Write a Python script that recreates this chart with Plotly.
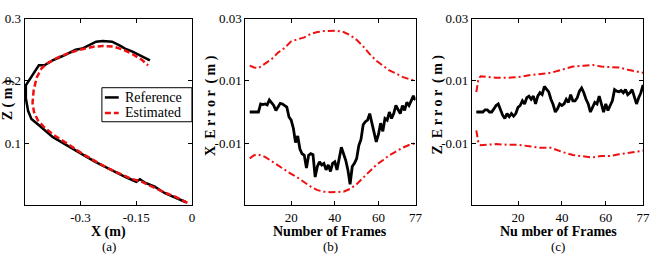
import plotly.graph_objects as go

# ---------------- Data ----------------
# (a) trajectory, X (m) vs Z (m)
ref_x = [-0.016, -0.045, -0.074, -0.100, -0.125, -0.140, -0.150, -0.180, -0.200, -0.224,
         -0.260, -0.295, -0.339, -0.375, -0.410, -0.432, -0.441, -0.447, -0.447, -0.428,
         -0.412, -0.397, -0.375, -0.348, -0.330, -0.313, -0.295, -0.277, -0.258, -0.240,
         -0.215, -0.195, -0.180, -0.160, -0.144, -0.113]
ref_z = [0.005, 0.013, 0.020, 0.030, 0.036, 0.042, 0.038, 0.046, 0.052, 0.058,
         0.070, 0.082, 0.097, 0.110, 0.128, 0.139, 0.152, 0.172, 0.193, 0.211,
         0.225, 0.225, 0.233, 0.240, 0.245, 0.250, 0.252, 0.257, 0.263, 0.264,
         0.263, 0.257, 0.252, 0.247, 0.242, 0.233]
est_x = [-0.012, -0.045, -0.075, -0.105, -0.135, -0.165, -0.195, -0.224, -0.260, -0.295,
         -0.335, -0.372, -0.400, -0.415, -0.425, -0.429, -0.426, -0.418, -0.405, -0.390,
         -0.360, -0.330, -0.295, -0.265, -0.240, -0.210, -0.185, -0.160, -0.135, -0.118]
est_z = [0.004, 0.014, 0.021, 0.029, 0.038, 0.043, 0.051, 0.059, 0.071, 0.083,
         0.099, 0.113, 0.127, 0.137, 0.150, 0.165, 0.185, 0.205, 0.220, 0.228,
         0.238, 0.245, 0.251, 0.255, 0.256, 0.255, 0.250, 0.243, 0.234, 0.225]
legend_names = ["Reference", "Estimated"]

frames = list(range(1, 78))

# (b) X error (x 1e-3 m)
x_err_mm = [0, 0, 0, 0, 0, 2.6, 2.4, 2.6, 2.3, 3.9, 3.1, 2.1, 0.5, 1.6, 2.8, 2.6, 2.1, 1.6, -1.6, -2.6,
            -5.2, -9.8, -7.7, -11.9, -13.4, -13.9, -18.0, -13.9, -13.4, -13.7, -20.9, -17.5, -16.0, -17.0,
            -16.5, -18.6, -17.0, -19.1, -16.5, -16.0, -18.6, -15.0, -11.3, -13.4, -15.5, -18.6, -23.2,
            -17.5, -16.5, -15.0, -10.8, -8.8, -4.1, -3.1, -2.6, -0.5, -3.6, -5.7, -9.6, -7.2, -3.6, -6.2,
            -2.1, -2.6, 0.0, -2.1, -0.5, 2.1, 1.0, -0.5, 2.1, 0.5, 3.1, 2.1, 3.6, 5.2, 3.8]

env_b_frames = [1, 3, 5, 8, 11, 14, 17, 20, 23, 26, 29, 32, 35, 38, 41, 44, 47, 50, 53, 56, 59, 62,
                65, 68, 71, 74, 77]
x_upper_mm = [14.9, 14.3, 14.1, 15.5, 17.0, 19.1, 20.6, 22.7, 23.4, 24.0, 25.1, 25.7, 26.0, 26.1,
              26.1, 25.7, 24.7, 23.2, 21.1, 18.6, 16.5, 14.9, 13.4, 12.4, 11.3, 10.6, 10.0]
x_lower_mm = [-14.9, -13.9, -13.7, -14.4, -15.8, -17.2, -18.6, -19.9, -21.1, -22.7, -24.0, -25.1,
              -25.6, -25.8, -25.8, -25.6, -24.7, -23.2, -21.1, -18.9, -17.0, -15.5, -13.9, -12.7,
              -11.5, -10.6, -10.0]

# (c) Z error (x 1e-3 m)
z_err_mm = [0, 0, 0, 0, 0.7, 0.7, 0, 0, 1.0, 2.1, 2.6, 0.7, -1.0, -2.1, -0.5, -1.5, -0.5, -1.3, -0.5,
            1.5, 2.1, 3.6, 2.6, 4.6, 5.1, 4.1, 5.1, 2.6, 5.1, 6.2, 5.6, 8.2, 7.2, 6.5, 4.1, 2.4, 0,
            1.0, 2.6, 2.1, 2.6, 4.1, 3.1, 5.6, 3.6, 3.6, 4.6, 6.7, 7.7, 6.2, 4.1, 2.6, 0, 1.5, 3.1,
            2.6, 5.1, 2.6, 0, 2.6, 0.5, 2.1, 3.6, 7.2, 6.7, 6.5, 6.9, 6.2, 7.2, 5.6, 6.2, 7.2, 4.6,
            2.6, 4.6, 6.2, 8.7]

env_c_frames = [1, 2, 3, 6, 10, 15, 20, 25, 30, 35, 40, 45, 50, 54, 58, 62, 66, 70, 74, 77]
z_upper_mm = [6.4, 10.8, 11.5, 11.2, 11.0, 11.0, 11.2, 11.8, 12.3, 12.6, 13.6, 14.6, 14.9, 15.1,
              14.6, 14.5, 14.3, 13.6, 13.1, 12.6]
z_lower_mm = [-5.9, -10.0, -10.7, -10.5, -10.3, -10.5, -10.5, -11.0, -11.5, -11.5, -12.8, -13.8,
              -14.3, -14.6, -14.1, -14.1, -13.6, -13.1, -12.6, -12.4]

a_xticks = [-0.3, -0.15, 0]
a_xticklabels = ["-0.3", "-0.15", "0"]
a_yticks = [0.1, 0.2, 0.3]
a_yticklabels = ["0.1", "0.2", "0.3"]
err_yticks = [0.03, 0.01, -0.01]
err_yticklabels = ["0.03", "0.01", "-0.01"]
frame_ticks = [20, 40, 60, 77]
frame_ticklabels = ["20", "40", "60", "77"]

# ---------------- Figure ----------------
W, H = 658, 254
FONT = "Liberation Serif"
BLACK = "#000000"
RED = "#f01010"
DASHDOT = "7px,3px,2px,3px"
DASH = "6px,3px"


def px_x(p):
    return p / W


def px_y(p):
    return 1 - p / H


fig = go.Figure()

fig.add_trace(go.Scatter(x=ref_x, y=ref_z, mode="lines", name=legend_names[0],
                         line=dict(color=BLACK, width=2.5), xaxis="x", yaxis="y",
                         showlegend=False))
fig.add_trace(go.Scatter(x=est_x, y=est_z, mode="lines", name=legend_names[1],
                         line=dict(color=RED, width=2.5, dash=DASH), xaxis="x", yaxis="y",
                         showlegend=False))

mm = 1e-3
fig.add_trace(go.Scatter(x=env_b_frames, y=[v * mm for v in x_upper_mm], mode="lines",
                         line=dict(color=RED, width=2, dash=DASHDOT), showlegend=False,
                         xaxis="x2", yaxis="y2"))
fig.add_trace(go.Scatter(x=env_b_frames, y=[v * mm for v in x_lower_mm], mode="lines",
                         line=dict(color=RED, width=2, dash=DASHDOT), showlegend=False,
                         xaxis="x2", yaxis="y2"))
fig.add_trace(go.Scatter(x=frames, y=[v * mm for v in x_err_mm], mode="lines",
                         line=dict(color=BLACK, width=2.8), showlegend=False,
                         xaxis="x2", yaxis="y2"))

fig.add_trace(go.Scatter(x=env_c_frames, y=[v * mm for v in z_upper_mm], mode="lines",
                         line=dict(color=RED, width=2, dash=DASHDOT), showlegend=False,
                         xaxis="x3", yaxis="y3"))
fig.add_trace(go.Scatter(x=env_c_frames, y=[v * mm for v in z_lower_mm], mode="lines",
                         line=dict(color=RED, width=2, dash=DASHDOT), showlegend=False,
                         xaxis="x3", yaxis="y3"))
fig.add_trace(go.Scatter(x=frames, y=[v * mm for v in z_err_mm], mode="lines",
                         line=dict(color=BLACK, width=2.8), showlegend=False,
                         xaxis="x3", yaxis="y3"))

axis_common = dict(showline=True, linecolor=BLACK, linewidth=1.2, mirror="ticks",
                   ticks="inside", ticklen=4, tickcolor=BLACK, showgrid=False, zeroline=False,
                   tickfont=dict(family=FONT, size=13, color=BLACK), tickmode="array")

ydom = [px_y(204), px_y(12)]

fig.update_layout(
    width=W, height=H,
    margin=dict(l=0, r=0, t=0, b=0),
    paper_bgcolor="white", plot_bgcolor="white",
    font=dict(family=FONT, color=BLACK),
    xaxis=dict(domain=[px_x(25), px_x(194)], range=[-0.45, 0], anchor="y",
               tickvals=a_xticks, ticktext=a_xticklabels, **axis_common),
    yaxis=dict(domain=ydom, range=[0, 0.3], anchor="x",
               tickvals=a_yticks, ticktext=a_yticklabels, **axis_common),
    xaxis2=dict(domain=[px_x(248), px_x(420)], range=[-1, 77], anchor="y2",
                tickvals=frame_ticks, ticktext=frame_ticklabels, **axis_common),
    yaxis2=dict(domain=ydom, range=[-0.03, 0.03], anchor="x2",
                tickvals=err_yticks, ticktext=err_yticklabels, **axis_common),
    xaxis3=dict(domain=[px_x(477), px_x(650)], range=[-1, 77], anchor="y3",
                tickvals=frame_ticks, ticktext=frame_ticklabels, **axis_common),
    yaxis3=dict(domain=ydom, range=[-0.03, 0.03], anchor="x3",
                tickvals=err_yticks, ticktext=err_yticklabels, **axis_common),
    showlegend=False,
)

# legend box for panel (a), drawn as a paper-space key
fig.add_shape(type="rect", xref="paper", yref="paper",
              x0=px_x(103), x1=px_x(194), y0=px_y(118), y1=px_y(83),
              line=dict(color=BLACK, width=1), fillcolor="white", layer="above")
fig.add_shape(type="line", xref="paper", yref="paper",
              x0=px_x(106), x1=px_x(120), y0=px_y(93), y1=px_y(93),
              line=dict(color=BLACK, width=2.5), layer="above")
fig.add_shape(type="line", xref="paper", yref="paper",
              x0=px_x(106), x1=px_x(120), y0=px_y(109), y1=px_y(109),
              line=dict(color=RED, width=2.5, dash=DASH), layer="above")
for name, ypos in zip(legend_names, [93, 109]):
    fig.add_annotation(xref="paper", yref="paper", x=px_x(124), y=px_y(ypos),
                       xanchor="left", yanchor="middle", showarrow=False, text=name,
                       font=dict(family=FONT, size=14, color=BLACK))

ann = [
    dict(text="<b>X (m)</b>", x=px_x(110), y=px_y(231)),
    dict(text="<b>Number of Frames</b>", x=px_x(334), y=px_y(231)),
    dict(text="<b>Nu mber of Frames</b>", x=px_x(564), y=px_y(231)),
    dict(text="(a)", x=px_x(110), y=px_y(246), size=13),
    dict(text="(b)", x=px_x(334), y=px_y(246), size=13),
    dict(text="(c)", x=px_x(564), y=px_y(246), size=13),
    dict(text="<b>Z ( m )</b>", x=px_x(8), y=px_y(95), textangle=-90),
    dict(text="<b>X  E r r o r  ( m )</b>", x=px_x(213), y=px_y(101), textangle=-90),
    dict(text="<b>Z  E r r o r  ( m )</b>", x=px_x(443), y=px_y(100), textangle=-90),
]
for a in ann:
    size = a.pop("size", 14)
    fig.add_annotation(xref="paper", yref="paper", xanchor="center", yanchor="middle",
                       showarrow=False, font=dict(family=FONT, size=size, color=BLACK), **a)

fig.write_html("out.html")
